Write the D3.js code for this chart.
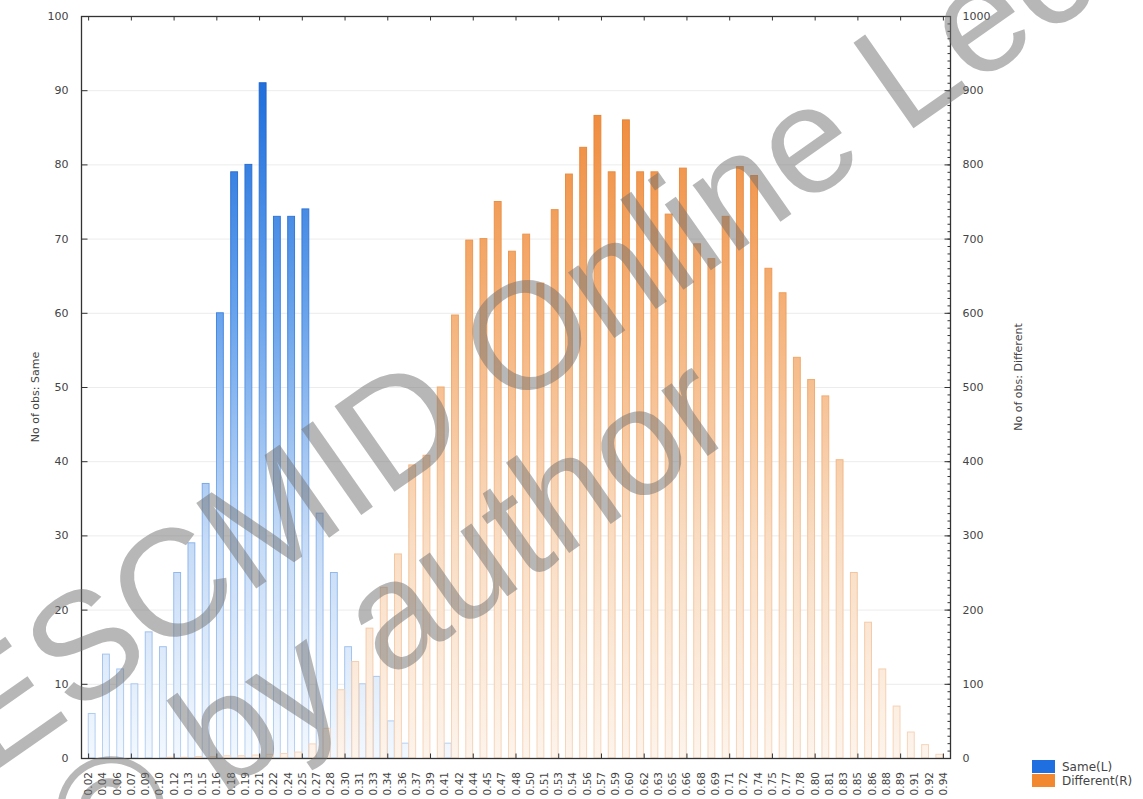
<!DOCTYPE html>
<html><head><meta charset="utf-8">
<script src="https://cdn.jsdelivr.net/npm/d3@7"></script>
<style>body{margin:0;background:#fff}svg{display:block}</style>
</head><body>
<svg id="c" width="1143" height="799"></svg>
<script>
// ---- data ----
const edgeLabels = ["0.02","0.04","0.06","0.07","0.09","0.10","0.12","0.13","0.15","0.16",
  "0.18","0.19","0.21","0.22","0.24","0.25","0.27","0.28","0.30","0.31",
  "0.33","0.34","0.36","0.37","0.39","0.41","0.42","0.44","0.45","0.47",
  "0.48","0.50","0.51","0.53","0.54","0.56","0.57","0.59","0.60","0.62",
  "0.63","0.65","0.66","0.68","0.69","0.71","0.72","0.74","0.75","0.77",
  "0.78","0.80","0.81","0.83","0.85","0.86","0.88","0.89","0.91","0.92","0.94"];
const sameCounts = [6,14,12,10,17,15,25,29,37,60,
  79,80,91,73,73,74,33,25,15,10,
  11,5,2,0,0,2,0,0,0,0,
  0,0,0,0,0,0,0,0,0,0,
  0,0,0,0,0,0,0,0,0,0,
  0,0,0,0,0,0,0,0,0,0];
const differentCounts = [0,0,0,0,0,1,1,2,2,3,
  3,4,5,6,8,19,40,92,130,175,
  230,275,395,408,500,597,698,700,750,683,
  706,640,739,787,823,866,790,860,790,790,
  733,795,693,673,730,797,785,660,627,540,
  510,488,402,250,183,120,70,35,18,5];
const leftTicks = [0,10,20,30,40,50,60,70,80,90,100];
const rightTicks = [0,100,200,300,400,500,600,700,800,900,1000];
const seriesNames = ["Same(L)","Different(R)"];
const leftTitle = "No of obs: Same";
const rightTitle = "No of obs: Different";
const watermarkLines = ["ESCMID Online Lecture Library", "\u00A9 by author"];

// ---- layout ----
const L = 81, R = 950, T = 16, B = 758;
const svg = d3.select("#c");
const FONT = "DejaVu Sans, Verdana, sans-serif";
const nb = edgeLabels.length - 1;

const xe = d3.scaleLinear().domain([-0.5, nb + 0.5]).range([L, R]);
const xb = d3.scaleBand().domain(d3.range(nb)).range([xe(0), xe(nb)]).paddingInner(0).paddingOuter(0);
const xs = d3.scaleBand().domain(seriesNames).range([0, xb.bandwidth()]).paddingInner(0.04).paddingOuter(0.02);
const yL = d3.scaleLinear().domain([0, 100]).range([B, T]);
const yR = d3.scaleLinear().domain([0, 1000]).range([B, T]);

// gradients
const defs = svg.append("defs");
function grad(id, stops) {
  const g = defs.append("linearGradient").attr("id", id)
    .attr("gradientUnits", "userSpaceOnUse").attr("x1", 0).attr("x2", 0).attr("y1", B).attr("y2", T);
  stops.forEach(([o, c]) => g.append("stop").attr("offset", o).attr("stop-color", c));
}
grad("gBlue", [[0, "#f3f8fe"], [0.3, "#c4daf6"], [0.6, "#69a3eb"], [0.88, "#2373de"], [1, "#1a64d2"]]);
grad("gBlueS", [[0, "#b9d1f2"], [0.3, "#8ab4ec"], [0.6, "#3f85e2"], [1, "#1256c4"]]);
grad("gOr", [[0, "#fdf4ec"], [0.3, "#f9dcc2"], [0.6, "#f5b27a"], [0.88, "#ef8b3c"], [1, "#ec7f2d"]]);
grad("gOrS", [[0, "#f6d6bd"], [0.3, "#f3c299"], [0.6, "#efa05c"], [1, "#e3741f"]]);

// gridlines
svg.append("g").selectAll("line").data(leftTicks.filter(d => d > 0 && d < 100)).join("line")
  .attr("x1", L).attr("x2", R).attr("y1", d => yL(d) + 0.5).attr("y2", d => yL(d) + 0.5)
  .attr("stroke", "#ececec").attr("stroke-width", 1);

// bars
const bars = svg.append("g");
bars.selectAll("rect.same").data(sameCounts).join("rect").attr("class", "same")
  .attr("x", (d, i) => xb(i) + xs("Same(L)"))
  .attr("width", xs.bandwidth())
  .attr("y", d => yL(d)).attr("height", d => B - yL(d))
  .attr("fill", "url(#gBlue)").attr("stroke", "url(#gBlueS)").attr("stroke-width", 1);
bars.selectAll("rect.diff").data(differentCounts).join("rect").attr("class", "diff")
  .attr("x", (d, i) => xb(i) + xs("Different(R)"))
  .attr("width", xs.bandwidth())
  .attr("y", d => yR(d)).attr("height", d => B - yR(d))
  .attr("fill", "url(#gOr)").attr("stroke", "url(#gOrS)").attr("stroke-width", 1);

// frame
svg.append("rect").attr("x", L + 0.5).attr("y", T + 0.5).attr("width", R - L).attr("height", B - T)
  .attr("fill", "none").attr("stroke", "#333").attr("stroke-width", 1.3);

// left axis
const gl = svg.append("g").attr("transform", `translate(${L + 0.5},0)`)
  .call(d3.axisLeft(yL).tickValues(leftTicks).tickSize(-6).tickPadding(13).tickFormat(d3.format("d")));
// right axis
const minorR = d3.range(0, 1001, 10);
svg.append("g").attr("transform", `translate(${R + 0.5},0)`)
  .call(d3.axisRight(yR).tickValues(minorR).tickSize(-3).tickFormat(""));
const gr = svg.append("g").attr("transform", `translate(${R + 0.5},0)`)
  .call(d3.axisRight(yR).tickValues(rightTicks).tickSize(-6).tickPadding(12).tickFormat(d3.format("d")));
// bottom axis
const xTickIdx = d3.range(0, nb + 1, 3);
svg.append("g").attr("transform", `translate(0,${B + 0.5})`)
  .call(d3.axisBottom(xe).tickValues(xTickIdx).tickSize(-5).tickFormat(""));
// top ticks
svg.append("g").attr("transform", `translate(0,${T + 0.5})`)
  .call(d3.axisTop(xe).tickValues(xTickIdx).tickSize(-4).tickFormat(""));

svg.selectAll(".domain").remove();
svg.selectAll(".tick line").attr("stroke", "#333");
[gl, gr].forEach(g => g.selectAll("text").attr("font-family", FONT).attr("font-size", 11).attr("fill", "#444"));

// x labels (all edges)
svg.append("g").selectAll("text").data(edgeLabels).join("text")
  .attr("transform", (d, i) => `translate(${xe(i) + 4},${B + 14}) rotate(-90)`)
  .attr("text-anchor", "end")
  .attr("font-family", FONT).attr("font-size", 10.5).attr("fill", "#444")
  .text(d => d);

// axis titles
svg.append("text").attr("transform", `translate(39,${(T + B) / 2 + 10}) rotate(-90)`)
  .attr("text-anchor", "middle").attr("font-family", FONT).attr("font-size", 11).attr("fill", "#444")
  .text(leftTitle);
svg.append("text").attr("transform", `translate(1022,${(T + B) / 2 - 10}) rotate(-90)`)
  .attr("text-anchor", "middle").attr("font-family", FONT).attr("font-size", 11).attr("fill", "#444")
  .text(rightTitle);

// legend
const legColors = ["#1f6fe0", "#f2882f"];
const lg = svg.append("g").attr("transform", "translate(1032,760)");
seriesNames.forEach((s, i) => {
  lg.append("rect").attr("x", 0).attr("y", i * 14).attr("width", 23).attr("height", 13).attr("fill", legColors[i]);
  lg.append("text").attr("x", 30).attr("y", i * 14 + 11).attr("font-family", FONT).attr("font-size", 12)
    .attr("fill", "#444").text(s);
});

// watermark
const wm = svg.append("g").attr("fill", "#6f6f6f").attr("fill-opacity", 0.5)
  .attr("font-family", "Liberation Sans, Arial, sans-serif").attr("font-size", 152);
wm.append("text").attr("transform", "translate(-10,775) rotate(-35)").text(watermarkLines[0]);
wm.append("text").attr("transform", "translate(95,885) rotate(-35)").text(watermarkLines[1]);
</script>
</body></html>
